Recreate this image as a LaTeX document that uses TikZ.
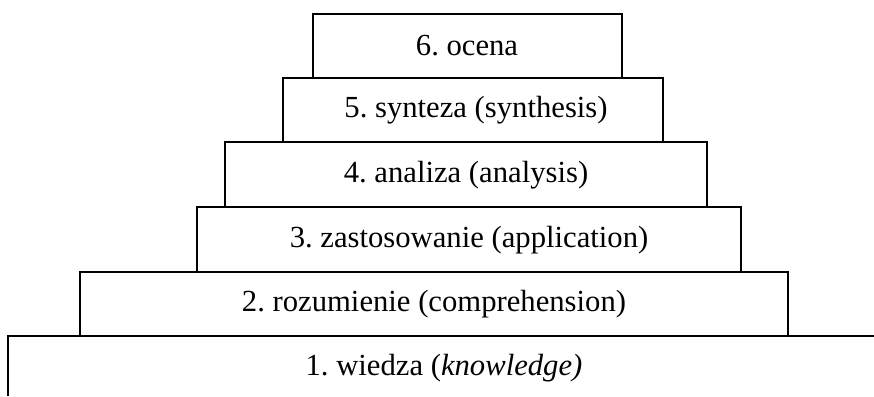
\documentclass[tikz,border=0pt]{standalone}
\usepackage{fontspec}
\setmainfont{Liberation Serif}
\frenchspacing
\begin{document}
\begin{tikzpicture}[x=0.75pt,y=-0.75pt,
    stopien/.style={draw,line width=1.1pt},
    etykieta/.style={font=\fontsize{23}{27}\selectfont,inner sep=0pt}]
    \useasboundingbox (0,0) rectangle (874,396);
    % poziomy piramidy, od szczytu do podstawy
    \draw[stopien] (313,14)  rectangle (622,78);
    \draw[stopien] (283,78)  rectangle (663,142);
    \draw[stopien] (225,142) rectangle (707,207);
    \draw[stopien] (197,207) rectangle (741,272);
    \draw[stopien] (80,272)  rectangle (788,336);
    \draw[stopien] (8,396) -- (8,336) -- (874,336);
    \node[etykieta] (ocena)      at (467,46)  {6. ocena};
    \node[etykieta] (synteza)    at (476,110) {5. synteza (synthesis)};
    \node[etykieta] (analiza)    at (466,175) {4. analiza (analysis)};
    \node[etykieta] (zastosow)   at (469,240) {3. zastosowanie (application)};
    \node[etykieta] (rozumienie) at (434,304) {2. rozumienie (comprehension)};
    \node[etykieta] (wiedza)     at (444,368) {1. wiedza (\textit{knowledge)}};
  \end{tikzpicture}
\end{document}
